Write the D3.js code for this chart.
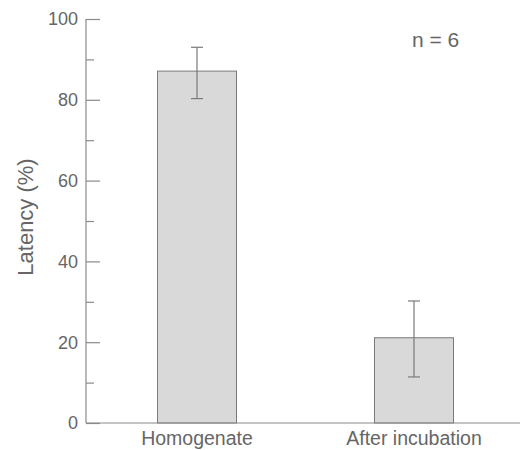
<!DOCTYPE html>
<html><head><meta charset="utf-8">
<script src="https://cdn.jsdelivr.net/npm/d3@7"></script>
<style>body{margin:0;background:#fff}svg{display:block}</style>
</head><body>
<script>
const categories = ["Homogenate", "After incubation"];
const values = [87.1, 21.1];
const errHigh = [93.0, 30.2];
const errLow = [80.3, 11.4];
const majorTicks = [0, 20, 40, 60, 80, 100];
const minorTicks = [10, 30, 50, 70, 90];

const W = 520, H = 450;
const x0 = 86, x1 = 520, yTop = 19, yBot = 423;
const font = "'Liberation Sans', Arial, Helvetica, sans-serif";
const axisCol = "#8a8a8a", textCol = "#666";

const svg = d3.select("body").append("svg").attr("width", W).attr("height", H);
const y = d3.scaleLinear().domain([0, 100]).range([yBot, yTop]);
const xc = d3.scalePoint().domain(categories).range([197, 414]);
const bw = 79;

// bars
svg.selectAll("rect.bar").data(categories).join("rect")
  .attr("x", d => xc(d) - bw / 2).attr("width", bw)
  .attr("y", (d, i) => y(values[i])).attr("height", (d, i) => y(0) - y(values[i]))
  .attr("fill", "#d9d9d9").attr("stroke", "#7a7a7a").attr("stroke-width", 1);

// error bars
const eg = svg.append("g").attr("stroke", "#7a7a7a").attr("stroke-width", 1.2).attr("fill", "none");
categories.forEach((c, i) => {
  const cx = xc(c);
  eg.append("line").attr("x1", cx).attr("x2", cx).attr("y1", y(errHigh[i])).attr("y2", y(errLow[i]));
  eg.append("line").attr("x1", cx - 6).attr("x2", cx + 6).attr("y1", y(errHigh[i])).attr("y2", y(errHigh[i]));
  eg.append("line").attr("x1", cx - 6).attr("x2", cx + 6).attr("y1", y(errLow[i])).attr("y2", y(errLow[i]));
});

// y axis
const ya = svg.append("g").attr("transform", `translate(${x0},0)`)
  .call(d3.axisRight(y).tickValues(majorTicks).tickSize(14).tickFormat(""));
ya.select(".domain").remove();
ya.selectAll("line").attr("stroke", axisCol).attr("stroke-width", 1.2);
const ym = svg.append("g").attr("transform", `translate(${x0},0)`)
  .call(d3.axisRight(y).tickValues(minorTicks).tickSize(8).tickFormat(""));
ym.select(".domain").remove();
ym.selectAll("line").attr("stroke", axisCol).attr("stroke-width", 1.2);

svg.append("line").attr("x1", x0).attr("x2", x0).attr("y1", y(100)).attr("y2", y(0))
  .attr("stroke", axisCol).attr("stroke-width", 1.2);
svg.append("line").attr("x1", x0).attr("x2", x1).attr("y1", y(0)).attr("y2", y(0))
  .attr("stroke", axisCol).attr("stroke-width", 1.2);

// y tick labels
svg.selectAll("text.yt").data(majorTicks).join("text")
  .attr("x", 78).attr("y", d => y(d)).attr("dy", "0.36em")
  .attr("text-anchor", "end").attr("font-family", font).attr("font-size", 18)
  .attr("fill", textCol).text(d => d);

// x labels
svg.selectAll("text.xt").data(categories).join("text")
  .attr("x", d => xc(d)).attr("y", 445)
  .attr("text-anchor", "middle").attr("font-family", font).attr("font-size", 19.5)
  .attr("fill", textCol).text(d => d);

// y axis title
svg.append("text").attr("transform", "translate(33,217) rotate(-90)")
  .attr("text-anchor", "middle").attr("font-family", font).attr("font-size", 22)
  .attr("fill", textCol).text("Latency (%)");

// annotation
svg.append("text").attr("x", 412).attr("y", 47).attr("font-family", font).attr("font-size", 21)
  .attr("fill", textCol).text("n = 6");
</script>
</body></html>
